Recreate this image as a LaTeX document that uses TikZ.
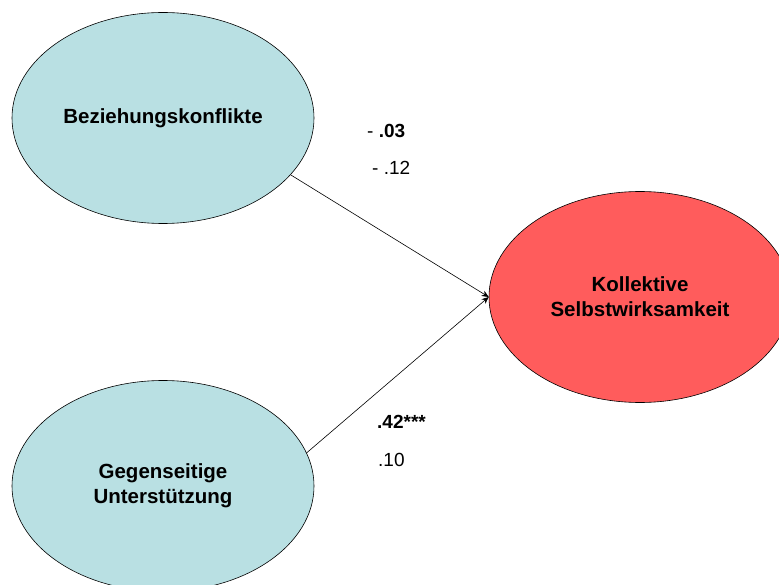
\documentclass[tikz,border=0pt]{standalone}
\usepackage{fontspec}
\setmainfont{Liberation Sans}
\usetikzlibrary{arrows.meta,positioning,shapes.geometric}
\definecolor{lightteal}{HTML}{B9E0E3}
\definecolor{salmonred}{HTML}{FF5C5C}

\begin{document}
\begin{tikzpicture}[x=1pt, y=-1pt,
      latent/.style={
        ellipse, draw=black, line width=0.6pt,
        minimum width=302pt, minimum height=211pt,
        align=center, font=\fontsize{20.5}{25}\selectfont\bfseries
      },
      coef/.style={anchor=base west, inner sep=0pt, font=\fontsize{19}{23}\selectfont},
      arrow/.style={-{Stealth[length=7pt,width=6pt]}, line width=0.6pt}
    ]
      \useasboundingbox (0,0) rectangle (779,585);
      \clip (0,0) rectangle (779,585);

      \node[latent, fill=lightteal] (bk) at (163,118) {Beziehungskonflikte};
      \node[latent, fill=lightteal] (gu) at (163,486) {Gegenseitige\\Unterstützung};
      \node[latent, fill=salmonred] (ks) at (640,297) {Kollektive\\Selbstwirksamkeit};

      \draw[arrow] (bk.-24) -- (ks.west);
      \draw[arrow] (gu.13) -- (ks.west);

      % coefficients
      \node[coef] (c1) at (367,138) {- \textbf{.03}};
      \node[coef] (c2) at (372,175) {- .12};
      \node[coef] (c3) at (377,428) {\textbf{.42***}};
      \node[coef] (c4) at (378,466) {.10};
    \end{tikzpicture}
\end{document}
